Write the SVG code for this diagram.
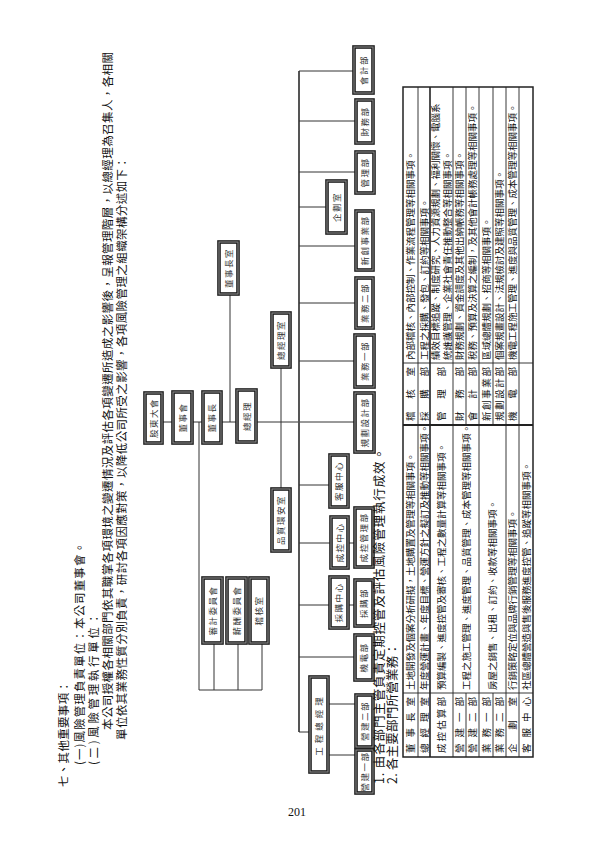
<svg xmlns="http://www.w3.org/2000/svg" width="595" height="842" viewBox="0 0 595 842">
<style>
.t{font-family:"Noto Sans CJK TC","Noto Sans CJK JP",sans-serif;fill:#111}
.hd{font-size:11.5px}
.hd2{font-size:12.5px}
.n .o{fill:#fff;stroke:#1a1a1a;stroke-width:3.6}
.n .i{fill:none;stroke:#8a8a8a;stroke-width:1.1}
.n text{font-family:"Noto Sans CJK TC","Noto Sans CJK JP",sans-serif;font-size:8.5px;fill:#333;text-anchor:middle;letter-spacing:1.5px}
#connectors line{stroke:#333;stroke-width:1}
#connectors .bus{stroke:#555;stroke-width:2}
.tb line{stroke:#222;stroke-width:0.9}
.tb .bd{fill:none;stroke:#222;stroke-width:1.5}
.tb text{font-family:"Noto Sans CJK TC","Noto Sans CJK JP",sans-serif;font-size:9.5px;fill:#111}
</style>
<rect width="595" height="842" fill="#fff"/>
<g transform="translate(0,842) rotate(-90)">
  <g id="heading">
    <text class="t hd" x="55" y="68" textLength="106" lengthAdjust="spacing">七、其他重要事項：</text>
    <text class="t hd" x="77" y="84" textLength="223" lengthAdjust="spacing">(一)風險管理負責單位：本公司董事會。</text>
    <text class="t hd" x="77" y="98" textLength="152" lengthAdjust="spacing">(二)風險管理執行單位：</text>
    <text class="t hd" x="112" y="112" textLength="678" lengthAdjust="spacing">本公司授權各相關部門依其職掌各項環境之變遷情況及評估各項變遷所造成之影響後，呈報管理階層，以總經理為召集人，各相關</text>
    <text class="t hd" x="102" y="126" textLength="583" lengthAdjust="spacing">單位依其業務性質分別負責，研討各項因應對策，以降低公司所受之影響，各項風險管理之組織架構分述如下：</text>
  </g>
  <g id="connectors">
    <line x1="420" y1="162" x2="420" y2="355"/>
    <line x1="420" y1="230" x2="548" y2="230"/>
    <line x1="152" y1="199" x2="420" y2="199"/>
    <line x1="152" y1="199" x2="152" y2="262"/>
    <line x1="152" y1="214" x2="199" y2="214"/>
    <line x1="152" y1="238" x2="199" y2="238"/>
    <line x1="152" y1="262" x2="199" y2="262"/>
    <line x1="352" y1="281" x2="477" y2="281"/>
    <line class="bus" x1="110" y1="299" x2="771" y2="299"/>
    <line x1="771" y1="299" x2="771" y2="354"/>
    <line x1="721" y1="299" x2="721" y2="356"/>
    <line x1="670" y1="299" x2="670" y2="356"/>
    <line x1="635" y1="299" x2="635" y2="327"/>
    <line x1="596" y1="299" x2="596" y2="356"/>
    <line x1="539" y1="299" x2="539" y2="356"/>
    <line x1="481" y1="299" x2="481" y2="355"/>
    <line x1="357" y1="299" x2="357" y2="330"/>
    <line x1="299" y1="299" x2="299" y2="355"/>
    <line x1="237" y1="299" x2="237" y2="355"/>
    <line x1="185" y1="299" x2="185" y2="355"/>
    <line x1="110" y1="299" x2="110" y2="310"/>
    <line x1="138" y1="328" x2="138" y2="356"/>
    <line x1="87" y1="328" x2="87" y2="356"/>
  </g>
  <g id="n-gudong" class="n"><rect class="o" x="399" y="145" width="50" height="17"/><rect class="i" x="399" y="145" width="50" height="17"/><text x="424" y="156.5">股東大會</text></g>
  <g id="n-dongshihui" class="n"><rect class="o" x="399" y="173" width="51" height="19"/><rect class="i" x="399" y="173" width="51" height="19"/><text x="424.5" y="185.5">董事會</text></g>
  <g id="n-dongshizhang" class="n"><rect class="o" x="399" y="203" width="51" height="18"/><rect class="i" x="399" y="203" width="51" height="18"/><text x="424.5" y="215">董事長</text></g>
  <g id="n-zongjingli" class="n"><rect class="o" x="400" y="237" width="52" height="19"/><rect class="i" x="400" y="237" width="52" height="19"/><text x="426" y="249.5">總經理</text></g>
  <g id="n-dszs" class="n"><rect class="o" x="548" y="219" width="52" height="19"/><rect class="i" x="548" y="219" width="52" height="19"/><text x="574" y="231.5">董事長室</text></g>
  <g id="n-zjls" class="n"><rect class="o" x="475" y="272" width="54" height="18"/><rect class="i" x="475" y="272" width="54" height="18"/><text x="502" y="284">總經理室</text></g>
  <g id="n-pzha" class="n"><rect class="o" x="291" y="272" width="62" height="18"/><rect class="i" x="291" y="272" width="62" height="18"/><text x="322" y="284">品質環安室</text></g>
  <g id="n-shenji" class="n"><rect class="o" x="199" y="203" width="65" height="19"/><rect class="i" x="199" y="203" width="65" height="19"/><text x="231.5" y="215.5">審計委員會</text></g>
  <g id="n-xinchou" class="n"><rect class="o" x="199" y="227" width="65" height="19"/><rect class="i" x="199" y="227" width="65" height="19"/><text x="231.5" y="239.5">薪酬委員會</text></g>
  <g id="n-jihe" class="n"><rect class="o" x="199" y="250" width="65" height="18"/><rect class="i" x="199" y="250" width="65" height="18"/><text x="231.5" y="262">稽核室</text></g>
  <g id="n-kuaiji" class="n"><rect class="o" x="749" y="354" width="46" height="19"/><rect class="i" x="749" y="354" width="46" height="19"/><text x="772" y="366.5">會計部</text></g>
  <g id="n-caiwu" class="n"><rect class="o" x="699" y="356" width="43" height="17"/><rect class="i" x="699" y="356" width="43" height="17"/><text x="720.5" y="367.5">財務部</text></g>
  <g id="n-guanli" class="n"><rect class="o" x="649" y="356" width="41" height="18"/><rect class="i" x="649" y="356" width="41" height="18"/><text x="669.5" y="368">管理部</text></g>
  <g id="n-qihua" class="n"><rect class="o" x="609" y="327" width="52" height="19"/><rect class="i" x="609" y="327" width="52" height="19"/><text x="635" y="339.5">企劃室</text></g>
  <g id="n-xinchuang" class="n"><rect class="o" x="572" y="356" width="59" height="17"/><rect class="i" x="572" y="356" width="59" height="17"/><text x="601.5" y="367.5">新創事業部</text></g>
  <g id="n-yewu2" class="n"><rect class="o" x="514" y="356" width="50" height="17"/><rect class="i" x="514" y="356" width="50" height="17"/><text x="539" y="367.5">業務二部</text></g>
  <g id="n-yewu1" class="n"><rect class="o" x="455" y="355" width="52" height="19"/><rect class="i" x="455" y="355" width="52" height="19"/><text x="481" y="367.5">業務一部</text></g>
  <g id="n-guihua" class="n"><rect class="o" x="390" y="355" width="59" height="19"/><rect class="i" x="390" y="355" width="59" height="19"/><text x="419.5" y="367.5">規劃設計部</text></g>
  <g id="n-kefu" class="n"><rect class="o" x="335" y="330" width="52" height="18"/><rect class="i" x="335" y="330" width="52" height="18"/><text x="361" y="342">客服中心</text></g>
  <g id="n-chengkong" class="n"><rect class="o" x="274" y="331" width="51" height="17"/><rect class="i" x="274" y="331" width="51" height="17"/><text x="299.5" y="342.5">成控中心</text></g>
  <g id="n-chengkongguanli" class="n"><rect class="o" x="275" y="355" width="59" height="18"/><rect class="i" x="275" y="355" width="59" height="18"/><text x="304.5" y="367">成控管理部</text></g>
  <g id="n-caigouzx" class="n"><rect class="o" x="214" y="330" width="51" height="18"/><rect class="i" x="214" y="330" width="51" height="18"/><text x="239.5" y="342">採購中心</text></g>
  <g id="n-caigou" class="n"><rect class="o" x="216" y="355" width="46" height="18"/><rect class="i" x="216" y="355" width="46" height="18"/><text x="239" y="367">採購部</text></g>
  <g id="n-jidian" class="n"><rect class="o" x="162" y="355" width="45" height="18"/><rect class="i" x="162" y="355" width="45" height="18"/><text x="184.5" y="367">機電部</text></g>
  <g id="n-gczjl" class="n"><rect class="o" x="70" y="310" width="95" height="18"/><rect class="i" x="70" y="310" width="95" height="18"/><text x="117.5" y="322" style="letter-spacing:4px">工程總經理</text></g>
  <g id="n-yingjian2" class="n"><rect class="o" x="95" y="356" width="52" height="17"/><rect class="i" x="95" y="356" width="52" height="17"/><text x="121" y="367.5">營建二部</text></g>
  <g id="n-yingjian1" class="n"><rect class="o" x="49" y="356" width="43" height="17"/><rect class="i" x="49" y="356" width="43" height="17"/><text x="70.5" y="367.5">營建一部</text></g>
  <g id="notes">
    <text class="t hd2" x="58" y="384" textLength="336" lengthAdjust="spacing">1. 由各部門主管負責定期控管及評估風險管理執行成效。</text>
    <text class="t hd2" x="58" y="397" textLength="141" lengthAdjust="spacing">2. 各主要部門所營業務：</text>
  </g>
  <g id="table" class="tb">
    <rect class="bd" x="85" y="403" width="670" height="130"/>
    <line x1="417" y1="403" x2="417" y2="533" style="stroke-width:2"/>
    <line x1="149" y1="403" x2="149" y2="533"/>
    <line x1="479" y1="403" x2="479" y2="533"/>
    <line x1="85" y1="418" x2="755" y2="418"/>
    <line x1="85" y1="430" x2="755" y2="430" style="stroke-width:1.6"/>
    <line x1="85" y1="453" x2="755" y2="453"/>
    <line x1="85" y1="466" x2="149" y2="466"/>
    <line x1="417" y1="466" x2="755" y2="466"/>
    <line x1="85" y1="479" x2="755" y2="479"/>
    <line x1="85" y1="493" x2="149" y2="493"/>
    <line x1="417" y1="493" x2="755" y2="493"/>
    <line x1="85" y1="506" x2="755" y2="506"/>
    <line x1="85" y1="519" x2="755" y2="519"/>
    <text x="89" y="414" textLength="56" lengthAdjust="spacing">董事長室</text>
    <text x="89" y="427.5" textLength="56" lengthAdjust="spacing">總經理室</text>
    <text x="89" y="445" textLength="56" lengthAdjust="spacing">成控估算部</text>
    <text x="89" y="463" textLength="56" lengthAdjust="spacing">營建一部</text>
    <text x="89" y="476" textLength="56" lengthAdjust="spacing">營建二部</text>
    <text x="89" y="489.5" textLength="56" lengthAdjust="spacing">業務一部</text>
    <text x="89" y="503" textLength="56" lengthAdjust="spacing">業務二部</text>
    <text x="89" y="516" textLength="56" lengthAdjust="spacing">企劃室</text>
    <text x="89" y="529.5" textLength="56" lengthAdjust="spacing">客服中心</text>
    <text x="152" y="414">土地開發及個案分析研擬，土地購置及管理等相關事項。</text>
    <text x="152" y="427.5">年度營運計畫、年度目標、營運方針之擬訂及推動等相關事項。</text>
    <text x="152" y="445">預算編製、進度控管及審核、工程之數量計算等相關事項。</text>
    <text x="152" y="469.5">工程之施工管理、進度管理、品質管理、成本管理等相關事項。</text>
    <text x="152" y="496">房屋之銷售、出租、訂約、收款等相關事項。</text>
    <text x="152" y="516">行銷策略定位與品牌行銷管理等相關事項。</text>
    <text x="152" y="529.5">社區總體營造與售後服務進度控管、追蹤等相關事項。</text>
    <text x="421" y="414" textLength="54" lengthAdjust="spacing">稽核室</text>
    <text x="421" y="427.5" textLength="54" lengthAdjust="spacing">採購部</text>
    <text x="421" y="445" textLength="54" lengthAdjust="spacing">管理部</text>
    <text x="421" y="463" textLength="54" lengthAdjust="spacing">財務部</text>
    <text x="421" y="476" textLength="54" lengthAdjust="spacing">會計部</text>
    <text x="421" y="489.5" textLength="54" lengthAdjust="spacing">新創事業部</text>
    <text x="421" y="503" textLength="54" lengthAdjust="spacing">規劃設計部</text>
    <text x="421" y="516" textLength="54" lengthAdjust="spacing">機電部</text>
    <text x="482" y="414">內部稽核、內部控制、作業流程管理等相關事項。</text>
    <text x="482" y="427.5">工程之採購、發包、訂約等相關事項。</text>
    <text x="482" y="438.5">績效目標追蹤、制度研究、人力資源規劃、福利關懷、電腦系</text>
    <text x="482" y="450.5">統維護管理、企業社會責任推動整合等相關事項。</text>
    <text x="482" y="463">財務規劃、資金調度及其他出納帳務等相關事項。</text>
    <text x="482" y="476">稅務、預算及決算之編制，及其他會計帳務處理等相關事項。</text>
    <text x="482" y="489.5">區域總體規劃、招商等相關事項。</text>
    <text x="482" y="503">個案規畫設計、法規檢討及建照等相關事項。</text>
    <text x="482" y="516">機電工程施工管理、進度與品質管理、成本管理等相關事項。</text>
  </g>
</g>
<text x="297" y="816" style="font-family:'Liberation Serif',serif;font-size:12px;fill:#111" text-anchor="middle">201</text>
</svg>
